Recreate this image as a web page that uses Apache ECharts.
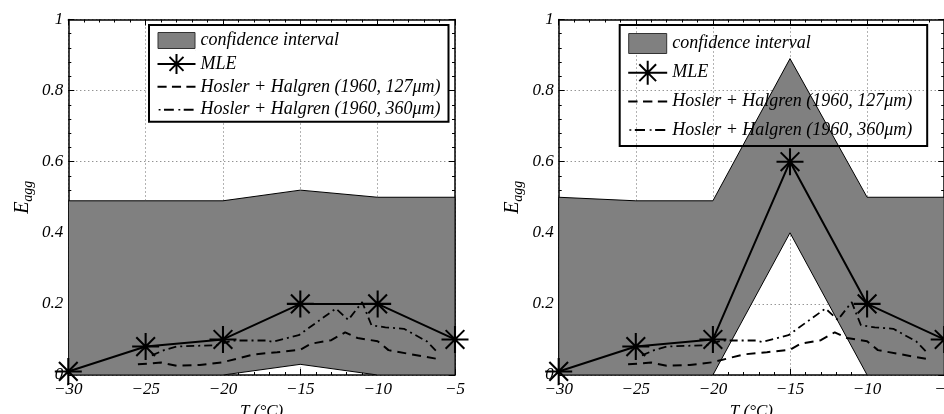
<!DOCTYPE html>
<html><head><meta charset="utf-8">
<script src="https://cdn.jsdelivr.net/npm/echarts@6/dist/echarts.min.js"></script>
<style>html,body{margin:0;padding:0;background:#fff}#c{width:944px;height:414px}</style>
</head><body><div id="c"></div>
<script>
// ---- data ----
const temps = [-30, -25, -20, -15, -10, -5];
const mleLeft = [0.01, 0.08, 0.10, 0.20, 0.20, 0.10];
const ciLowerLeft = [0, 0, 0, 0.03, 0, 0];
const ciUpperLeft = [0.49, 0.49, 0.49, 0.52, 0.50, 0.50];
const mleRight = [0.01, 0.08, 0.10, 0.60, 0.20, 0.10];
const ciLowerRight = [0, 0, 0, 0.40, 0, 0];
const ciUpperRight = [0.50, 0.49, 0.49, 0.89, 0.50, 0.50];
const hh127T = [-25.5, -24.0, -23.0, -21.5, -20.0, -18.0, -16.5, -15.0, -14.3, -13.0, -12.1, -11.3, -10.0, -9.3, -7.8, -6.1];
const hh127E = [0.030, 0.035, 0.026, 0.028, 0.036, 0.058, 0.064, 0.071, 0.088, 0.098, 0.120, 0.104, 0.095, 0.070, 0.058, 0.045];
const hh360T = [-24.6, -23.8, -23.0, -20.4, -19.4, -17.2, -16.8, -15.1, -12.7, -11.9, -11.0, -10.4, -9.5, -8.3, -6.8, -6.1];
const hh360E = [0.055, 0.070, 0.080, 0.084, 0.097, 0.097, 0.093, 0.112, 0.187, 0.155, 0.205, 0.140, 0.134, 0.130, 0.094, 0.062];
const xTicks = {min: -30, max: -5, step: 5};
const yTicks = {min: 0, max: 1, step: 0.2};
const names = ['confidence interval', 'MLE', 'Hosler + Halgren (1960, 127μm)', 'Hosler + Halgren (1960, 360μm)'];

// ---- styling ----
const FONT = 'Liberation Serif';
const pairs = (xs, ys) => xs.map((x, i) => [x, ys[i]]);
const starPath = 'path://M0,12H26V14H0Z M12,0H14V26H12Z M3.3,4.7L4.7,3.3L22.7,21.3L21.3,22.7Z M21.3,3.3L22.7,4.7L4.7,22.7L3.3,21.3Z';

function icons(w, h, rh) {
  const pad = `M0,0h0.01v0.01h-0.01z M${w-0.01},${h-0.01}h0.01v0.01h-0.01z `;
  const cy = h / 2;
  const ry = (h - rh) / 2;
  const sx = w / 2;
  const d = h * 0.35;
  return {
    ci: 'path://' + pad + `M0.5,${ry}h${w-1}v${rh}h-${w-1}z`,
    mle: 'path://' + pad + `M0,${cy-1}h${w}v2h-${w}z M${sx-1},0h2v${h}h-2z ` +
      `M${sx-d-0.7},${cy-d+0.7}L${sx-d+0.7},${cy-d-0.7}L${sx+d+0.7},${cy+d-0.7}L${sx+d-0.7},${cy+d+0.7}z ` +
      `M${sx+d-0.7},${cy-d-0.7}L${sx+d+0.7},${cy-d+0.7}L${sx-d+0.7},${cy+d+0.7}L${sx-d-0.7},${cy+d-0.7}z`,
    dash: 'path://' + pad + `M0,${cy-1}h${w*0.24}v2h-${w*0.24}z M${w*0.38},${cy-1}h${w*0.24}v2h-${w*0.24}z M${w*0.76},${cy-1}h${w*0.24}v2h-${w*0.24}z`,
    dashdot: 'path://' + pad + `M${w*0.03},${cy-0.75}h${w*0.05}v1.5h-${w*0.05}z M${w*0.17},${cy-1}h${w*0.26}v2h-${w*0.26}z M${w*0.55},${cy-0.75}h${w*0.05}v1.5h-${w*0.05}z M${w*0.69},${cy-1}h${w*0.26}v2h-${w*0.26}z`
  };
}

const labelStyle = {fontFamily: FONT, fontStyle: 'italic', fontSize: 17, color: '#000'};
const legendText = {fontFamily: FONT, fontStyle: 'italic', fontSize: 18, color: '#000'};

function legendFor(left, top, w, h, rh, gap, padding, bg, z) {
  const ic = icons(w, h, rh);
  return {
    orient: 'vertical', left: left, top: top, z: z,
    backgroundColor: bg, borderColor: '#000', borderWidth: 2, borderRadius: 0,
    padding: padding, itemWidth: w, itemHeight: h, itemGap: gap,
    symbolKeepAspect: false, selectedMode: false,
    textStyle: legendText,
    data: [
      {name: names[0], icon: ic.ci, itemStyle: {color: '#808080', borderColor: '#333', borderWidth: 1}},
      {name: names[1], icon: ic.mle, itemStyle: {color: '#000', borderWidth: 0}},
      {name: names[2], icon: ic.dash, itemStyle: {color: '#000', borderWidth: 0}},
      {name: names[3], icon: ic.dashdot, itemStyle: {color: '#000', borderWidth: 0}}
    ]
  };
}

function xAxes(grid) {
  const base = {type: 'value', gridIndex: grid, min: xTicks.min, max: xTicks.max, interval: xTicks.step};
  return [
    Object.assign({}, base, {
      position: 'bottom', z: 0,
      axisLine: {show: true, onZero: false, lineStyle: {color: '#000', width: 1.5}},
      axisTick: {show: true, inside: true, length: 6, lineStyle: {color: '#000', width: 1}},
      minorTick: {show: true, splitNumber: 5, length: 3, lineStyle: {color: '#000', width: 1}},
      axisLabel: Object.assign({margin: 6, formatter: v => String(v).replace('-', '\u2212')}, labelStyle),
      splitLine: {show: true, lineStyle: {color: '#666', width: 1, type: [1, 3]}},
      name: 'T (°C)', nameLocation: 'middle', nameGap: 23,
      nameTextStyle: Object.assign({}, labelStyle)
    }),
    Object.assign({}, base, {
      position: 'top', z: 0,
      axisLine: {show: true, onZero: false, lineStyle: {color: '#000', width: 1.5}},
      axisTick: {show: true, inside: true, length: 6, lineStyle: {color: '#000', width: 1}},
      minorTick: {show: true, splitNumber: 5, length: 3, lineStyle: {color: '#000', width: 1}},
      axisLabel: {show: false}, splitLine: {show: false}
    })
  ];
}

function yAxes(grid) {
  const base = {type: 'value', gridIndex: grid, min: yTicks.min, max: yTicks.max, interval: yTicks.step};
  return [
    Object.assign({}, base, {
      position: 'left', z: 0,
      axisLine: {show: true, onZero: false, lineStyle: {color: '#000', width: 1.5}},
      axisTick: {show: true, inside: true, length: 6, lineStyle: {color: '#000', width: 1}},
      minorTick: {show: true, splitNumber: 5, length: 3, lineStyle: {color: '#000', width: 1}},
      axisLabel: Object.assign({margin: 5, formatter: v => (v === 0 ? '0' : v === 1 ? '1' : v.toFixed(1))}, labelStyle),
      splitLine: {show: true, lineStyle: {color: '#666', width: 1, type: [1, 3]}},
      name: '{e|E}{s|agg}', nameLocation: 'middle', nameGap: 33, nameRotate: 90,
      nameTextStyle: {
        rich: {
          e: {fontFamily: FONT, fontStyle: 'italic', fontSize: 20, color: '#000'},
          s: {fontFamily: FONT, fontStyle: 'italic', fontSize: 14, color: '#000', padding: [11, 0, 0, 0]}
        }
      }
    }),
    Object.assign({}, base, {
      position: 'right', z: 0,
      axisLine: {show: true, onZero: false, lineStyle: {color: '#000', width: 1.5}},
      axisTick: {show: true, inside: true, length: 6, lineStyle: {color: '#000', width: 1}},
      minorTick: {show: true, splitNumber: 5, length: 3, lineStyle: {color: '#000', width: 1}},
      axisLabel: {show: false}, splitLine: {show: false}
    })
  ];
}

function bandSeries(xi, yi, lo, up) {
  return {
    type: 'custom', name: names[0], coordinateSystem: 'cartesian2d',
    xAxisIndex: xi, yAxisIndex: yi, z: 2, clip: true,
    itemStyle: {color: '#808080'},
    data: pairs(temps, up),
    encode: {x: 0, y: 1},
    renderItem: function (params, api) {
      if (params.dataIndex !== 0) return null;
      const pts = [];
      for (let i = 0; i < temps.length; i++) pts.push(api.coord([temps[i], up[i]]));
      for (let i = temps.length - 1; i >= 0; i--) pts.push(api.coord([temps[i], lo[i]]));
      return {
        type: 'polygon',
        shape: {points: pts},
        style: {fill: '#808080', stroke: '#000', lineWidth: 1}
      };
    }
  };
}

function panelSeries(xi, yi, mle, lo, up) {
  return [
    bandSeries(xi, yi, lo, up),
    {
      type: 'line', name: names[2], xAxisIndex: xi, yAxisIndex: yi,
      data: pairs(hh127T, hh127E), symbol: 'none', z: 3,
      lineStyle: {color: '#000', width: 2, type: [9, 6]}, itemStyle: {color: '#000'}
    },
    {
      type: 'line', name: names[3], xAxisIndex: xi, yAxisIndex: yi,
      data: pairs(hh360T, hh360E), symbol: 'none', z: 3,
      lineStyle: {color: '#000', width: 1.8, type: [8, 4, 2, 4]}, itemStyle: {color: '#000'}
    },
    {
      type: 'line', name: names[1], xAxisIndex: xi, yAxisIndex: yi,
      data: pairs(temps, mle), symbol: starPath, symbolSize: 27, showSymbol: true, clip: false, z: 5,
      lineStyle: {color: '#000', width: 2}, itemStyle: {color: '#000', borderWidth: 0}
    }
  ];
}

const chart = echarts.init(document.getElementById('c'), null, {renderer: 'canvas'});
chart.setOption({
  animation: false,
  backgroundColor: '#fff',
  grid: [
    {left: 68.3, top: 19.5, width: 386.7, height: 355.5, containLabel: false, outerBoundsMode: 'none'},
    {left: 558.7, top: 19.5, width: 385.5, height: 355.5, containLabel: false, outerBoundsMode: 'none'}
  ],
  legend: [
    legendFor(149, 25, 38, 20, 16, 2.9, [5, 8, 2, 8], '#fff', 1),
    legendFor(619.7, 25, 39, 24, 20, 4.7, [6, 15, 4, 8], 'transparent', 6)
  ],
  xAxis: xAxes(0).concat(xAxes(1)),
  yAxis: yAxes(0).concat(yAxes(1)),
  series: panelSeries(0, 0, mleLeft, ciLowerLeft, ciUpperLeft)
    .concat(panelSeries(2, 2, mleRight, ciLowerRight, ciUpperRight))
});
</script>
</body></html>
